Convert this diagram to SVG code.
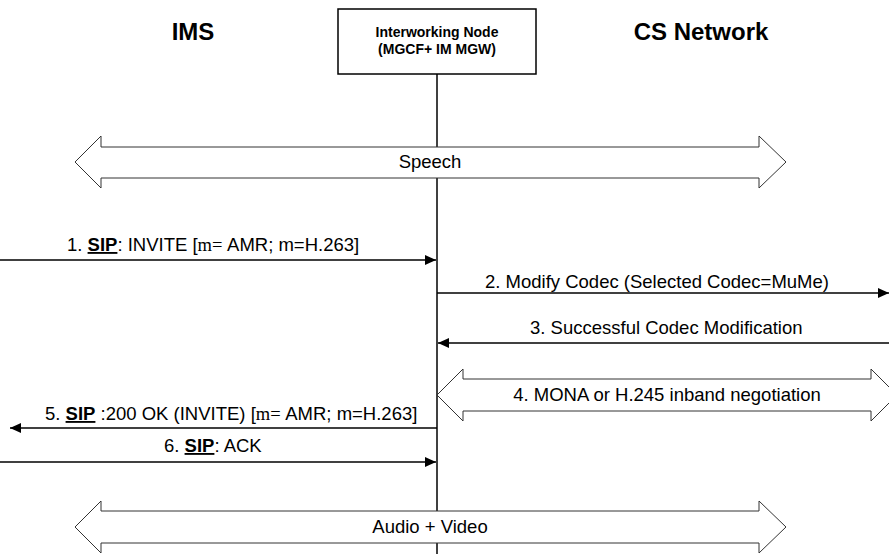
<svg xmlns="http://www.w3.org/2000/svg" width="889" height="554" viewBox="0 0 889 554">
<defs>
<marker id="ah" markerWidth="11" markerHeight="10" refX="11" refY="5" orient="auto" markerUnits="userSpaceOnUse"><path d="M0,0 L11,5 L0,10 z" fill="#000"/></marker>
</defs>
<style>
text{font-family:"Liberation Sans",Arial,sans-serif;fill:#000}
.t{font-size:18.5px}
.title{font-size:24px;font-weight:bold;text-anchor:middle}
.bx{font-size:14px;font-weight:bold;text-anchor:middle}
.b{font-weight:bold;text-decoration:underline}
.s{font-family:"Liberation Serif","Times New Roman",serif}
.msg{stroke:#000;stroke-width:1.5;fill:none;marker-end:url(#ah)}
.big{fill:#fff;stroke:#333;stroke-width:1}
.c{text-anchor:middle}
</style>
<rect width="889" height="554" fill="#fff"/>
<g id="ims"><text class="title" x="193" y="40">IMS</text></g>
<g id="cs"><text class="title" x="701" y="40">CS Network</text></g>
<g id="node">
<rect x="338" y="9" width="198" height="65" fill="#fff" stroke="#000" stroke-width="1.5"/>
<text class="bx" x="437" y="37">Interworking Node</text>
<text class="bx" x="437" y="54">(MGCF+ IM MGW)</text>
<line x1="437" y1="74" x2="437" y2="554" stroke="#000" stroke-width="1.5"/>
</g>
<g id="connectors">
<path class="big" d="M75,162 L101,136 L101,147 L759,147 L759,136 L786,162 L759,188 L759,178 L101,178 L101,188 Z"/>
<text class="t c" x="430" y="168">Speech</text>
<line class="msg" x1="0" y1="260" x2="436" y2="260"/>
<text class="t" x="67" y="251">1. <tspan class="b">SIP</tspan>: INVITE [<tspan class="s">m= </tspan>AMR; m=H.263]</text>
<line class="msg" x1="437" y1="293" x2="889" y2="293"/>
<text class="t" x="485" y="288">2. Modify Codec (Selected Codec=MuMe)</text>
<line class="msg" x1="889" y1="343" x2="438" y2="343"/>
<text class="t" x="530" y="334">3. Successful Codec Modification</text>
<path class="big" d="M437,395 L463,369 L463,379 L871,379 L871,369 L897,395 L871,421 L871,411 L463,411 L463,421 Z"/>
<text class="t c" x="667" y="401">4. MONA or H.245 inband negotiation</text>
<line class="msg" x1="437" y1="428" x2="10" y2="428"/>
<text class="t" x="45" y="420">5. <tspan class="b">SIP</tspan> :200 OK (INVITE) [<tspan class="s">m= </tspan>AMR; m=H.263]</text>
<line class="msg" x1="0" y1="462" x2="436" y2="462"/>
<text class="t" x="164" y="452">6. <tspan class="b">SIP</tspan>: ACK</text>
<path class="big" d="M75,527 L101,501 L101,511 L759,511 L759,501 L786,527 L759,553 L759,543 L101,543 L101,553 Z"/>
<text class="t c" x="430" y="533">Audio + Video</text>
</g>
</svg>
